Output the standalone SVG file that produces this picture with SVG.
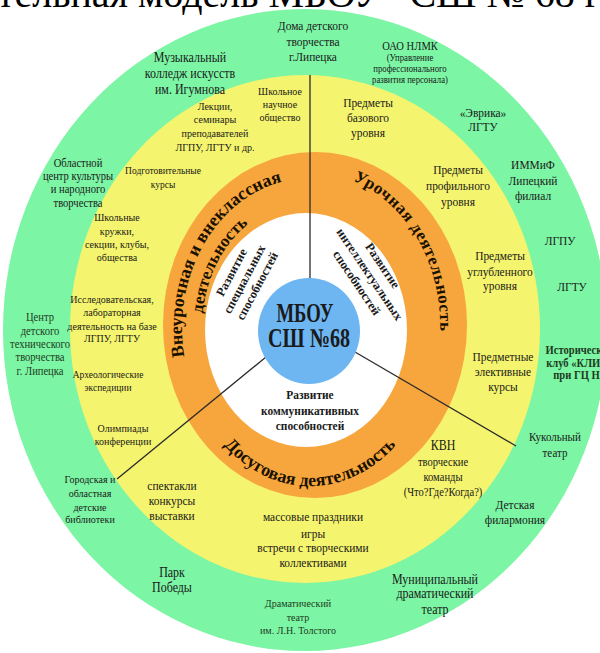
<svg xmlns="http://www.w3.org/2000/svg" width="600" height="653" viewBox="0 0 600 653">
<style>
text{font-family:"Liberation Serif","Times New Roman",serif;fill:#1a1a1a;text-anchor:middle}
.g{fill:#1d3b22}
.b{font-weight:bold}
.o{font-weight:bold;font-size:18px;fill:#1a1200}
.ln{stroke:#2a2a2a;stroke-width:1.3;fill:none}
.f13{font-size:13px}
.f135{font-size:13.6px}
.f125{font-size:12.5px}
.f12{font-size:12px}
.f114{font-size:11.4px}
.f108{font-size:10.8px}
.f10{font-size:9.9px}
</style>
<defs>
<path id="pOuterL" d="M186.4,366.8 A128,150 0 0 1 292.2,179.5"/>
<path id="pInnerL" d="M203.6,350.1 A108,127 0 0 1 280.2,205.9"/>
<path id="pRight" d="M330.6,174 A130,154 0 0 1 438,354.7"/>
<path id="pBottom" d="M211.9,429.6 A128,158 0 0 0 408.1,429.6"/>
</defs>
<rect width="600" height="653" fill="#fff"/>
<text x="-3" y="7" style="font-size:40px;text-anchor:start;fill:#000">тельная модель МБОУ “СШ № 68 г</text>
<g id="rings">
<ellipse cx="305" cy="330" rx="302" ry="321" fill="#7CF5A4"/>
<ellipse cx="305" cy="329" rx="235" ry="254" fill="#F5F46E"/>
<ellipse cx="315" cy="325" rx="152" ry="173" fill="#F7A53D"/>
<ellipse cx="306" cy="330" rx="101" ry="117" fill="#fff"/>
</g>
<g id="connectors">
<line class="ln" x1="310" y1="75" x2="310" y2="279"/>
<line class="ln" x1="266" y1="357" x2="117" y2="479"/>
<line class="ln" x1="355" y1="352" x2="516" y2="446"/>
</g>
<g id="center">
<ellipse cx="309" cy="331" rx="51" ry="53" fill="#6DB6F2"/>
<text x="305" y="322" class="b" style="font-size:27px" textLength="57" lengthAdjust="spacingAndGlyphs">МБОУ</text>
<text x="309" y="347" class="b" style="font-size:27px" textLength="82" lengthAdjust="spacingAndGlyphs">СШ №68</text>
</g>
<g id="orange-labels">
<text class="o"><textPath href="#pOuterL" startOffset="50%">Внеурочная и внеклассная</textPath></text>
<text class="o" style="font-size:17px"><textPath href="#pInnerL" startOffset="50%">деятельность</textPath></text>
<text class="o" style="font-size:17px;letter-spacing:0.6px"><textPath href="#pRight" startOffset="50%">Урочная деятельность</textPath></text>
<text class="o"><textPath href="#pBottom" startOffset="50%">Досуговая деятельность</textPath></text>
</g>
<g id="dev-special" transform="translate(244,279) rotate(-62)">
<text class="b f125" y="-10">Развитие</text>
<text class="b f125" y="4.5">специальных</text>
<text class="b f125" y="19">способностей</text>
</g>
<g id="dev-intel" transform="translate(370,274) rotate(56)">
<text class="b f125" y="-11">Развитие</text>
<text class="b f125" y="4.5">интеллектуальных</text>
<text class="b f125" y="20">способностей</text>
</g>
<g id="dev-comm" transform="matrix(.88 0 0 1 37.2 0)">
<text class="b f13" x="310" y="399">Развитие</text>
<text class="b f13" x="310" y="415">коммуникативных</text>
<text class="b f13" x="310" y="430">способностей</text>
</g>
<g id="green-ddt" transform="matrix(.88 0 0 1 37.56 0)"><text class="f13" x="313" y="30">Дома детского</text><text class="f13" x="313" y="46">творчества</text><text class="f13" x="313" y="61">г.Липецка</text></g>
<g id="green-music" transform="matrix(.88 0 0 1 22.8 0)"><text class="f135" x="190" y="62">Музыкальный</text><text class="f135" x="190" y="78">колледж искусств</text><text class="f135" x="190" y="94">им. Игумнова</text></g>
<g id="green-nlmk" transform="matrix(.88 0 0 1 49.2 0)"><text class="f12" x="410" y="50">ОАО НЛМК</text><text class="f10" x="410" y="61.5">(Управление</text><text class="f10" x="410" y="72.5">профессионального</text><text class="f10" x="410" y="83.5">развития персонала)</text></g>
<g id="green-evrika" transform="matrix(.88 0 0 1 57.96 0)"><text class="f13" x="483" y="117">«Эврика»</text><text class="f13" x="483" y="131">ЛГТУ</text></g>
<g id="green-immif" transform="matrix(.88 0 0 1 63.96 0)"><text class="f13" x="533" y="169">ИММиФ</text><text class="f13" x="533" y="185">Липецкий</text><text class="f13" x="533" y="200">филиал</text></g>
<g id="green-lgpu" transform="matrix(.88 0 0 1 67.2 0)"><text class="f13" x="560" y="245">ЛГПУ</text></g>
<g id="green-lgtu" transform="matrix(.88 0 0 1 68.64 0)"><text class="f13" x="572" y="291">ЛГТУ</text></g>
<g id="green-klio" transform="matrix(.88 0 0 1 69.6 0)"><text class="g b f12" x="580" y="354">Исторический</text><text class="g b f12" x="580" y="367">клуб «КЛИО»</text><text class="g b f12" x="580" y="379">при ГЦ НБ</text></g>
<g id="green-puppet" transform="matrix(.88 0 0 1 66.6 0)"><text class="f125" x="555" y="441">Кукольный</text><text class="f125" x="555" y="457">театр</text></g>
<g id="green-phil" transform="matrix(.88 0 0 1 61.8 0)"><text class="f13" x="515" y="509">Детская</text><text class="f13" x="515" y="524">филармония</text></g>
<g id="green-municipal" transform="matrix(.88 0 0 1 52.2 0)"><text class="f135" x="435" y="584">Муниципальный</text><text class="f135" x="435" y="598">драматический</text><text class="f135" x="435" y="614">театр</text></g>
<g id="green-drama" transform="matrix(.88 0 0 1 35.76 0)"><text class="g f114" x="298" y="607">Драматический</text><text class="g f114" x="298" y="621">театр</text><text class="g f114" x="298" y="634">им. Л.Н. Толстого</text></g>
<g id="green-park" transform="matrix(.88 0 0 1 20.64 0)"><text class="f135" x="172" y="577">Парк</text><text class="f135" x="172" y="592">Победы</text></g>
<g id="green-library" transform="matrix(.88 0 0 1 10.8 0)"><text class="f114" x="90" y="483">Городская и</text><text class="f114" x="90" y="497">областная</text><text class="f114" x="90" y="511">детские</text><text class="f114" x="90" y="523">библиотеки</text></g>
<g id="green-cdtt" transform="matrix(.88 0 0 1 4.8 0)"><text class="g f12" x="40" y="321">Центр</text><text class="g f12" x="40" y="335">детского</text><text class="g f12" x="40" y="348">технического</text><text class="g f12" x="40" y="361">творчества</text><text class="g f12" x="40" y="375">г. Липецка</text></g>
<g id="green-oblcenter" transform="matrix(.88 0 0 1 9.36 0)"><text class="f12" x="78" y="167">Областной</text><text class="f12" x="78" y="180">центр культуры</text><text class="f12" x="78" y="193">и народного</text><text class="f12" x="78" y="207">творчества</text></g>
<g id="y-science" transform="matrix(.88 0 0 1 33.6 0)"><text class="f114" x="280" y="95">Школьное</text><text class="f114" x="280" y="108">научное</text><text class="f114" x="280" y="121">общество</text></g>
<g id="y-lectures" transform="matrix(.88 0 0 1 25.8 0)"><text class="f114" x="215" y="110">Лекции,</text><text class="f114" x="215" y="123">семинары</text><text class="f114" x="215" y="137">преподавателей</text><text class="f114" x="215" y="151">ЛГПУ, ЛГТУ и др.</text></g>
<g id="y-prep" transform="matrix(.88 0 0 1 19.56 0)"><text class="f108" x="163" y="174">Подготовительные</text><text class="f108" x="163" y="188">курсы</text></g>
<g id="y-clubs" transform="matrix(.88 0 0 1 14.04 0)"><text class="f114" x="117" y="221">Школьные</text><text class="f114" x="117" y="235">кружки,</text><text class="f114" x="117" y="248">секции, клубы,</text><text class="f114" x="117" y="261">общества</text></g>
<g id="y-research" transform="matrix(.88 0 0 1 13.44 0)"><text class="f114" x="112" y="303">Исследовательская,</text><text class="f114" x="112" y="316">лабораторная</text><text class="f114" x="112" y="330">деятельность на базе</text><text class="f114" x="112" y="342">ЛГПУ, ЛГТУ</text></g>
<g id="y-archeo" transform="matrix(.88 0 0 1 12.96 0)"><text class="f108" x="108" y="378">Археологические</text><text class="f108" x="108" y="391">экспедиции</text></g>
<g id="y-olymp" transform="matrix(.88 0 0 1 14.76 0)"><text class="f114" x="123" y="432">Олимпиады</text><text class="f114" x="123" y="445">конференции</text></g>
<g id="y-shows" transform="matrix(.88 0 0 1 20.64 0)"><text class="f13" x="172" y="490">спектакли</text><text class="f13" x="172" y="505">конкурсы</text><text class="f13" x="172" y="520">выставки</text></g>
<g id="y-mass" transform="matrix(.88 0 0 1 37.56 0)"><text class="f13" x="313" y="521">массовые праздники</text><text class="f13" x="313" y="538">игры</text><text class="f13" x="313" y="552">встречи с творческими</text><text class="f13" x="313" y="567">коллективами</text></g>
<g id="y-kvn" transform="matrix(.88 0 0 1 53.16 0)"><text class="f135" x="443" y="450">КВН</text><text class="f12" x="443" y="466">творческие</text><text class="f12" x="443" y="481">команды</text><text class="f12" x="443" y="496">(Что?Где?Когда?)</text></g>
<g id="y-elective" transform="matrix(.88 0 0 1 60.36 0)"><text class="f13" x="503" y="361">Предметные</text><text class="f13" x="503" y="376">элективные</text><text class="f13" x="503" y="391">курсы</text></g>
<g id="y-advanced" transform="matrix(.88 0 0 1 60 0)"><text class="f13" x="500" y="260">Предметы</text><text class="f13" x="500" y="276">углубленного</text><text class="f13" x="500" y="290">уровня</text></g>
<g id="y-profile" transform="matrix(.88 0 0 1 54.96 0)"><text class="f13" x="458" y="174">Предметы</text><text class="f13" x="458" y="190">профильного</text><text class="f13" x="458" y="206">уровня</text></g>
<g id="y-basic" transform="matrix(.88 0 0 1 44.16 0)"><text class="f13" x="368" y="107">Предметы</text><text class="f13" x="368" y="122">базового</text><text class="f13" x="368" y="137">уровня</text></g>
</svg>
